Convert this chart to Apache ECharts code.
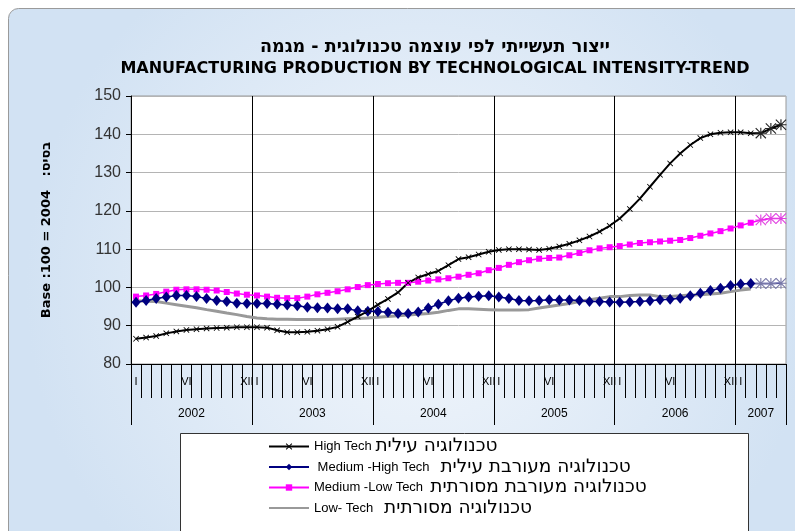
<!DOCTYPE html>
<html><head><meta charset="utf-8">
<script src="https://cdn.jsdelivr.net/npm/echarts@6/dist/echarts.min.js"></script>
<style>html,body{margin:0;padding:0;background:#fff}#c{width:795px;height:531px}</style>
</head><body><div id="c"></div>
<script>
const titleHe = 'ייצור תעשייתי לפי עוצמה טכנולוגית - מגמה';
const titleEn = 'MANUFACTURING PRODUCTION BY TECHNOLOGICAL INTENSITY-TREND';
const yAxisName = 'Base :100 = 2004   :בסיס';
const years = ['2002', '2003', '2004', '2005', '2006', '2007'];
const monthsPerYear = [12, 12, 12, 12, 12, 5];
const monthTickLabels = ['I', '', '', '', '', 'VI', '', '', '', '', '', 'XII'];
const seriesNames = [
  'High Tech טכנולוגיה עילית',
  ' Medium -High Tech   טכנולוגיה מעורבת עילית',
  'Medium -Low Tech  טכנולוגיה מעורבת מסורתית',
  'Low- Tech   טכנולוגיה מסורתית'
];
const highTech = [86.6, 86.9, 87.3, 88.0, 88.5, 88.9, 89.1, 89.3, 89.4, 89.5, 89.6, 89.6,
  89.6, 89.5, 88.8, 88.3, 88.3, 88.4, 88.7, 89.1, 89.7, 91.0, 92.4, 93.8,
  95.5, 97.0, 98.7, 101.2, 102.6, 103.5, 104.3, 105.8, 107.4, 107.9, 108.6, 109.3,
  109.8, 110.0, 110.0, 109.9, 109.8, 110.1, 110.7, 111.4, 112.3, 113.3, 114.6, 116.1,
  118.0, 120.5, 123.2, 126.3, 129.4, 132.4, 135.0, 137.2, 139.0, 140.0, 140.4, 140.5,
  140.5, 140.3, 140.3, 141.5, 142.5];
const mediumHigh = [96.1, 96.6, 97.1, 97.5, 97.9, 97.9, 97.6, 97.1, 96.6, 96.3, 95.9, 95.8,
  95.8, 95.8, 95.6, 95.4, 95.2, 94.8, 94.7, 94.6, 94.4, 94.4, 93.9, 93.8,
  93.7, 93.5, 93.2, 93.2, 93.6, 94.6, 95.6, 96.5, 97.2, 97.5, 97.7, 97.8,
  97.5, 97.1, 96.6, 96.5, 96.6, 96.8, 96.7, 96.7, 96.6, 96.3, 96.3, 96.2,
  96.1, 96.2, 96.3, 96.5, 96.8, 96.9, 97.2, 97.8, 98.5, 99.2, 99.8, 100.5,
  100.9, 101.0, 101.0, 101.0, 101.1];
const mediumLow = [97.6, 97.9, 98.3, 98.9, 99.4, 99.5, 99.5, 99.4, 99.2, 98.8, 98.4, 98.1,
  97.9, 97.6, 97.3, 97.2, 97.2, 97.6, 98.2, 98.6, 99.0, 99.5, 100.1, 100.6,
  100.9, 101.1, 101.2, 101.2, 101.5, 101.8, 102.1, 102.4, 102.8, 103.3, 103.7, 104.5,
  105.1, 105.9, 106.6, 107.1, 107.5, 107.7, 107.8, 108.4, 109.0, 109.7, 110.2, 110.5,
  110.8, 111.2, 111.6, 111.8, 112.0, 112.2, 112.4, 112.9, 113.5, 114.1, 114.7, 115.4,
  116.2, 116.9, 117.6, 118.0, 118.0];
const lowTech = [96.5, 96.4, 96.3, 95.9, 95.5, 95.1, 94.7, 94.2, 93.8, 93.3, 92.9, 92.4,
  92.0, 91.8, 91.7, 91.7, 91.6, 91.6, 91.6, 91.6, 91.7, 91.8, 91.9, 92.0,
  92.2, 92.4, 92.6, 92.8, 93.0, 93.2, 93.5, 94.0, 94.4, 94.4, 94.3, 94.2,
  94.1, 94.1, 94.1, 94.2, 94.6, 95.0, 95.4, 95.8, 96.3, 96.8, 97.2, 97.6,
  97.6, 97.9, 98.0, 98.0, 97.6, 97.6, 97.8, 98.0, 98.1, 98.3, 98.5, 98.9,
  99.3, 99.6, null, null, null];
const preliminaryCount = 3;

const monthCats = [];
years.forEach((y, yi) => { for (let m = 0; m < monthsPerYear[yi]; m++) monthCats.push(y + '-' + (m + 1)); });
const totalMonths = monthCats.length;
const halfCats = [];
for (let k = 0; k <= totalMonths * 2; k++) halfCats.push('h' + k);
const yearBounds = [0];
monthsPerYear.forEach(n => yearBounds.push(yearBounds[yearBounds.length - 1] + n * 2));
const yearMids = monthsPerYear.map((n, i) => yearBounds[i] + n);

const XMARK = 'path://M0,1L1,0L5,4L9,0L10,1L6,5L10,9L9,10L5,6L1,10L0,9L4,5Z';
const STAR = 'path://M4.5,0H5.5V10H4.5Z M0,4.5H10V5.5H0Z M0.7,0L10,9.3L9.3,10L0,0.7Z M9.3,0L10,0.7L0.7,10L0,9.3Z';
function mkData(arr, starColor) {
  return arr.map((v, i) => (starColor && v != null && i >= arr.length - preliminaryCount)
    ? { value: v, symbol: STAR, symbolSize: 11, itemStyle: { color: starColor } } : v);
}
function legendFmt(name) {
  const m = name.match(/^([^\u0590-\u05FF]*)([\u0590-\u05FF].*)$/);
  if (!m) return name;
  return '{en|' + m[1] + '}{he|' + m[2] + '}';
}

const chart = echarts.init(document.getElementById('c'));
chart.setOption({
  backgroundColor: '#fff',
  animation: false,
  textStyle: { fontFamily: 'Liberation Sans, Arial, sans-serif' },
  graphic: [
    { type: 'rect', z: -10, shape: { x: 8.5, y: 8.5, width: 820, height: 560, r: 10 },
      style: { fill: new echarts.graphic.RadialGradient(0.5, 0.5, 0.7, [
        { offset: 0, color: '#f3f7fc' }, { offset: 1, color: '#d2e2f3' }]), stroke: '#9a9a9a', lineWidth: 1 } },
    { type: 'rect', z: 1, shape: { x: 180.5, y: 433.5, width: 568, height: 120 },
      style: { fill: '#fff', stroke: '#333', lineWidth: 1 } }
  ],
  title: [
    { text: titleHe, left: 435, top: 38, textAlign: 'center', padding: 0,
      textStyle: { fontSize: 17.5, fontWeight: 'bold', fontFamily: 'DejaVu Sans', color: '#000' } },
    { text: titleEn, left: 435, top: 61, textAlign: 'center', padding: 0,
      textStyle: { fontSize: 16, fontWeight: 'bold', fontFamily: 'DejaVu Sans', color: '#000' } }
  ],
  legend: {
    data: [
      { name: seriesNames[0] }, { name: seriesNames[1] }, { name: seriesNames[2] },
      { name: seriesNames[3], itemStyle: { opacity: 0 } }
    ],
    orient: 'vertical', left: 268, top: 437, height: 200, padding: 0,
    itemWidth: 40, itemHeight: 8, itemGap: 1.5,
    formatter: legendFmt,
    textStyle: { fontSize: 13, color: '#000',
      rich: {
        en: { fontSize: 13, fontFamily: 'Liberation Sans, Arial', color: '#000' },
        he: { fontSize: 18.5, fontFamily: 'DejaVu Sans', color: '#000' }
      } }
  },
  grid: { left: 131, top: 96, right: 9, bottom: 167, show: true, backgroundColor: '#fff', borderColor: '#999', borderWidth: 1 },
  xAxis: [
    { type: 'category', data: monthCats, boundaryGap: true, position: 'bottom',
      axisLine: { show: true, lineStyle: { color: '#000' } },
      axisTick: { show: true, interval: 0, length: 34, lineStyle: { color: '#000' } },
      axisLabel: { interval: 0, margin: 12, fontSize: 11, color: '#000',
        formatter: (v, i) => monthTickLabels[(+v.split('-')[1]) - 1] },
      splitLine: { show: false } },
    { type: 'category', data: halfCats, boundaryGap: false, position: 'bottom',
      axisLine: { show: false },
      axisTick: { show: true, length: 61, interval: (i) => yearBounds.includes(i), lineStyle: { color: '#000' } },
      axisLabel: { margin: 44, fontSize: 12, color: '#000', interval: (i) => yearMids.includes(i),
        formatter: (v, i) => { const j = yearMids.indexOf(i); return j >= 0 ? years[j] : ''; } },
      splitLine: { show: true, interval: (i) => i > 0 && i < yearBounds[yearBounds.length - 1] && yearBounds.includes(i),
        lineStyle: { color: '#000', width: 1 } } }
  ],
  yAxis: {
    type: 'value', min: 80, max: 150, interval: 10,
    axisLine: { show: true, lineStyle: { color: '#000' } },
    axisTick: { show: true, length: 5, lineStyle: { color: '#000' } },
    axisLabel: { fontSize: 16, color: '#333', margin: 10 },
    splitLine: { lineStyle: { color: '#b4b4b4' } },
    name: yAxisName, nameLocation: 'middle', nameRotate: 90, nameGap: 78,
    nameTextStyle: { fontWeight: 'bold', fontSize: 13, fontFamily: 'DejaVu Sans', color: '#000' }
  },
  series: [
    { name: seriesNames[3], type: 'line', data: lowTech, symbol: 'none',
      lineStyle: { color: '#999', width: 3 }, itemStyle: { color: '#999' } },
    { name: seriesNames[2], type: 'line', data: mkData(mediumLow, '#e040e0'), symbol: 'rect', symbolSize: 6,
      lineStyle: { color: '#ff00ff', width: 1.5 }, itemStyle: { color: '#ff00ff' } },
    { name: seriesNames[1], type: 'line', data: mkData(mediumHigh, '#7878a8'), symbol: 'diamond', symbolSize: [9, 11],
      lineStyle: { color: '#000080', width: 1.5 }, itemStyle: { color: '#000080' } },
    { name: seriesNames[0], type: 'line', data: mkData(highTech, '#222'), symbol: XMARK, symbolSize: 6,
      lineStyle: { color: '#000', width: 2 }, itemStyle: { color: '#000' } }
  ]
});
</script></body></html>
